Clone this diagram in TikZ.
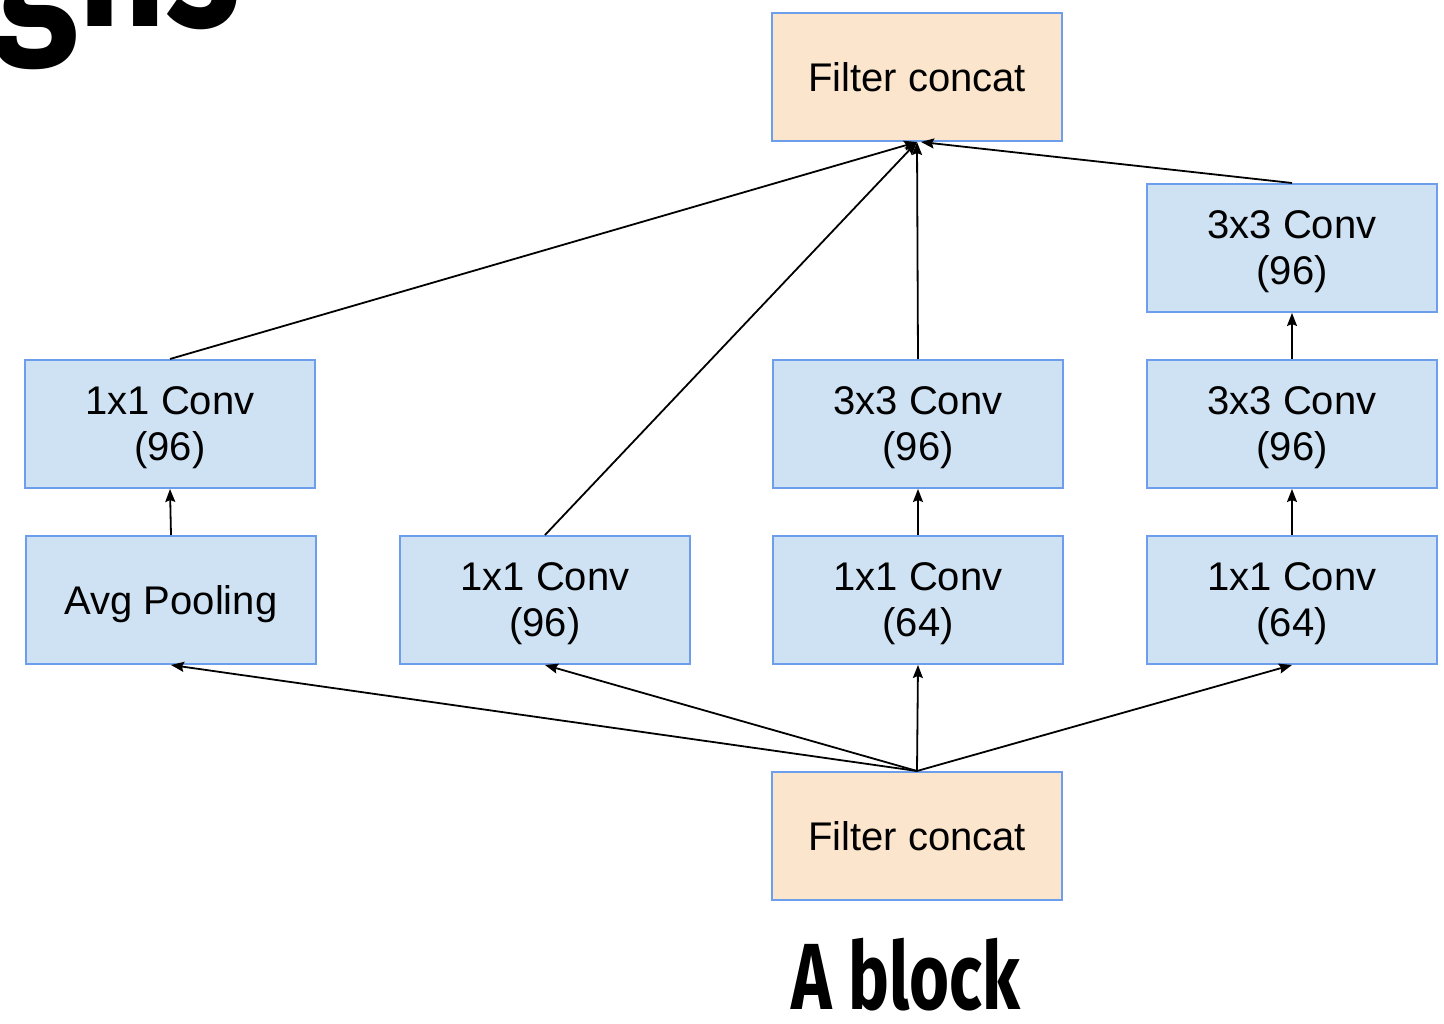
\documentclass[tikz,border=0pt]{standalone}
\usepackage{fontspec}
\setmainfont{Liberation Sans}
\newfontfamily\headfont{Fira Sans}
\usetikzlibrary{arrows.meta}

\definecolor{boxblue}{HTML}{CFE2F3}
\definecolor{boxorange}{HTML}{FCE5CD}
\definecolor{edgeblue}{HTML}{6D9EEB}

\tikzset{
  layer/.style={draw=edgeblue, line width=2pt, fill=boxblue,
    minimum width=290pt, minimum height=128pt, inner sep=0pt,
    text depth=0pt,
    align=center, font=\fontsize{40}{46}\selectfont},
  concat/.style={layer, fill=boxorange},
  flow/.style={line width=1.8pt, -{Stealth[length=13pt,width=10pt,inset=2pt]}},
  heading/.style={inner sep=0pt, font=\headfont\bfseries}
}

\begin{document}
\begin{tikzpicture}[x=1pt,y=-1pt]
\clip (0,0) rectangle (1444,1024);
\useasboundingbox (0,0) rectangle (1444,1024);

% heading text running off the top edge
\node[heading, anchor=base east] (title) at (240,27)
  {\fontsize{195}{195}\selectfont\scalebox{0.78}[1]{gns}};

% block output and input
\node[concat] (top) at (917,77) {Filter concat};
\node[concat] (bot) at (917,836) {Filter concat};

% first layer of the branches
\node[layer] (pool) at (171,600) {Avg Pooling};
\node[layer] (b2)   at (545,600) {1x1 Conv\\(96)};
\node[layer] (b3a)  at (918,600) {1x1 Conv\\(64)};
\node[layer] (b4a)  at (1292,600) {1x1 Conv\\(64)};

% second layer
\node[layer] (b1)   at (170,424) {1x1 Conv\\(96)};
\node[layer] (b3b)  at (918,424) {3x3 Conv\\(96)};
\node[layer] (b4b)  at (1292,424) {3x3 Conv\\(96)};

% third layer
\node[layer] (b4c)  at (1292,248) {3x3 Conv\\(96)};

% input fan-out
\draw[flow] (bot.north) -- (pool.south);
\draw[flow] (bot.north) -- (b2.south);
\draw[flow] (bot.north) -- (b3a.south);
\draw[flow] (bot.north) -- (b4a.south);

% inside the branches
\draw[flow] (pool.north) -- (b1.south);
\draw[flow] (b3a.north) -- (b3b.south);
\draw[flow] (b4a.north) -- (b4b.south);
\draw[flow] (b4b.north) -- (b4c.south);

% output fan-in
\draw[flow] (b1.north) -- (top.south);
\draw[flow] (b2.north) -- (top.south);
\draw[flow] (b3b.north) -- (top.south);
\draw[flow] (b4c.north) -- ([xshift=4pt]top.south);

% caption
\node[heading, anchor=base] (caption) at (906,1009)
  {\fontsize{94}{94}\selectfont\scalebox{0.73}[1]{A block}};
\end{tikzpicture}
\end{document}
